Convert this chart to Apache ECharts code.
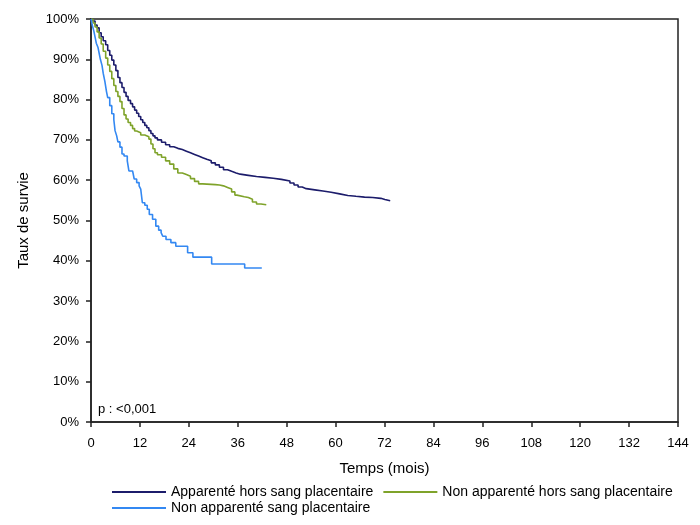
<!DOCTYPE html>
<html>
<head>
<meta charset="utf-8">
<script src="https://cdn.jsdelivr.net/npm/echarts@6/dist/echarts.min.js"></script>
<style>
  html, body { margin: 0; padding: 0; background: #fff; }
  #chart { width: 700px; height: 525px; }
</style>
</head>
<body>
<div id="chart"></div>
<script>
// noms des groupes
var seriesNames = [
  'Apparenté hors sang placentaire',
  'Non apparenté hors sang placentaire',
  'Non apparenté sang placentaire'
];

// temps (mois) et taux de survie (%)
var tempsApp = [0, 0.5, 1, 1.5, 2, 2.5, 3, 3.6, 4.1, 4.6, 5.1, 5.6, 6.1, 6.6, 7.1, 7.6, 8.1, 8.6, 9.1, 9.7,
  10.2, 10.7, 11.2, 11.7, 12.2, 12.7, 13.2, 13.7, 14.2, 14.7, 15.2, 15.7, 16.3, 17.3, 18.3, 19.3, 20.3, 21.3,
  22.4, 23.4, 24.4, 25.4, 26.4, 27.4, 28.4, 29.5, 30.5, 31.5, 32.5, 33.5, 34.5, 35.6, 36.6, 38.6, 40.6, 42.7,
  44.7, 46.7, 48.8, 49.8, 50.8, 51.8, 52.8, 54.9, 56.9, 58.9, 61, 63, 65, 67.1, 69.1, 71.1, 72.1, 73.4];
var survieApp = [100, 99.5, 98.5, 97.8, 96.6, 95.6, 94.6, 93.6, 92.2, 91, 89.8, 88.6, 87.2, 85.5, 84.2, 83, 81.8, 80.8, 79.8, 79,
  78.2, 77.4, 76.6, 75.8, 75, 74.3, 73.6, 73, 72.3, 71.6, 71, 70.5, 70, 69.4, 68.8, 68.3, 67.9, 67.6,
  67.2, 66.8, 66.4, 66, 65.6, 65.2, 64.8, 64.3, 63.8, 63.2, 62.6, 62.2, 61.8, 61.5, 61.2, 60.9, 60.7, 60.5,
  60.2, 59.8, 59.3, 58.8, 58.3, 57.9, 57.6, 57.3, 57, 56.6, 56.2, 56, 55.8, 55.7, 55.5, 55.2, 54.9, 54.8];

var tempsNonApp = [0, 0.5, 1, 1.5, 2, 2.5, 3, 3.6, 4.1, 4.6, 5.1, 5.6, 6.1, 6.6, 7.1, 7.6, 8.1, 8.6, 9.1, 9.7,
  10.2, 10.7, 11.2, 12.2, 13.2, 14.2, 14.7, 15.2, 15.7, 16.3, 17.3, 18.3, 19.3, 20.3, 21.3, 22.4, 23.4, 24.4,
  25.4, 26.4, 27.4, 30.5, 31.5, 32.5, 33.5, 34.5, 35.3, 35.8, 37.6, 38.6, 39.6, 40.6, 41.7, 43];
var survieNonApp = [100, 99, 98, 96.8, 95.3, 93.8, 92, 90.3, 88.6, 87, 85.2, 83.5, 82, 80.8, 79.5, 77.8, 76.2, 75.2, 74.3, 73.6,
  72.8, 72.2, 71.8, 71.2, 70.8, 70.2, 69, 67.8, 66.8, 66.3, 65.7, 64.8, 64, 62.8, 61.8, 61.4, 61, 60.4,
  59.7, 59.1, 58.9, 58.8, 58.6, 58.2, 57.8, 57.1, 56.3, 55.9, 55.7, 55.3, 54.6, 54.1, 53.9, 53.9];

var tempsPlac = [0, 0.3, 0.7, 1, 1.3, 1.7, 2, 2.3, 2.7, 3, 3.4, 3.8, 4.1, 4.6, 5.1, 5.6, 5.9, 6.3, 6.6, 7.1,
  7.6, 8.1, 8.9, 9.3, 10.2, 10.6, 11.2, 11.8, 12.2, 12.6, 13.2, 13.8, 14.3, 15.1, 15.9, 16.6, 17.2, 17.6,
  18.4, 19.6, 20.8, 23.7, 25, 29.6, 37.7, 41.9];
var surviePlac = [100, 98.5, 97, 95.5, 94, 93, 91.5, 90, 88.5, 86.5, 84.5, 82, 80.5, 78.5, 76.5, 75, 72.3, 71, 69.5, 68.2,
  66.5, 66, 64.8, 62.3, 61.9, 60.3, 59.4, 58.6, 57.8, 54.4, 53.8, 52.8, 51.5, 50.3, 48.6, 47.6, 47, 46.1,
  45.3, 44.5, 43.6, 42, 40.9, 39.2, 38.2, 38.2];

var colors = ['#1c1c6b', '#7fa32a', '#3388f2'];

function paires(t, s) {
  return t.map(function (v, i) { return [v, s[i]]; });
}

var chart = echarts.init(document.getElementById('chart'));

var font = '"Liberation Sans", Arial, sans-serif';

function courbe(i, t, s) {
  return {
    name: seriesNames[i],
    type: 'line',
    step: 'end',
    showSymbol: false,
    symbol: 'none',
    animation: false,
    data: paires(t, s),
    lineStyle: { color: colors[i], width: 1.6 },
    itemStyle: { color: colors[i] }
  };
}

var legendCommon = {
  orient: 'horizontal',
  icon: 'rect',
  itemWidth: 54,
  itemHeight: 2,
  itemGap: 10,
  selectedMode: false,
  textStyle: { color: '#000', fontSize: 14, fontFamily: font }
};

chart.setOption({
  backgroundColor: '#fff',
  color: colors,
  grid: {
    left: 91, right: 22, top: 19, bottom: 103,
    show: true,
    borderColor: '#222',
    borderWidth: 1.5,
    backgroundColor: 'transparent'
  },
  legend: [
    Object.assign({ left: 107, top: 480, data: [seriesNames[0], seriesNames[1]] }, legendCommon),
    Object.assign({ left: 107, top: 496, data: [seriesNames[2]] }, legendCommon)
  ],
  xAxis: {
    type: 'value',
    min: 0,
    max: 144,
    interval: 12,
    name: 'Temps (mois)',
    nameLocation: 'middle',
    nameGap: 39,
    nameTextStyle: { color: '#000', fontSize: 15, fontFamily: font },
    axisLine: { show: true, lineStyle: { color: '#222', width: 1.5 } },
    axisTick: { show: true, length: 5, inside: false, lineStyle: { color: '#222', width: 1.5 } },
    axisLabel: { color: '#000', fontSize: 13, fontFamily: font, margin: 15 },
    splitLine: { show: false }
  },
  yAxis: {
    type: 'value',
    min: 0,
    max: 100,
    interval: 10,
    name: 'Taux de survie',
    nameLocation: 'middle',
    nameGap: 60,
    nameTextStyle: { color: '#000', fontSize: 15, fontFamily: font },
    axisLine: { show: true, lineStyle: { color: '#222', width: 1.5 } },
    axisTick: { show: true, length: 5, inside: false, lineStyle: { color: '#222', width: 1.5 } },
    axisLabel: { color: '#000', fontSize: 13, fontFamily: font, margin: 12, formatter: '{value}%' },
    splitLine: { show: false }
  },
  graphic: [
    {
      type: 'text',
      left: 98,
      top: 403,
      style: { text: 'p : <0,001', fill: '#000', fontSize: 13, fontFamily: font }
    }
  ],
  series: [
    courbe(0, tempsApp, survieApp),
    courbe(1, tempsNonApp, survieNonApp),
    courbe(2, tempsPlac, surviePlac)
  ]
});
</script>
</body>
</html>
